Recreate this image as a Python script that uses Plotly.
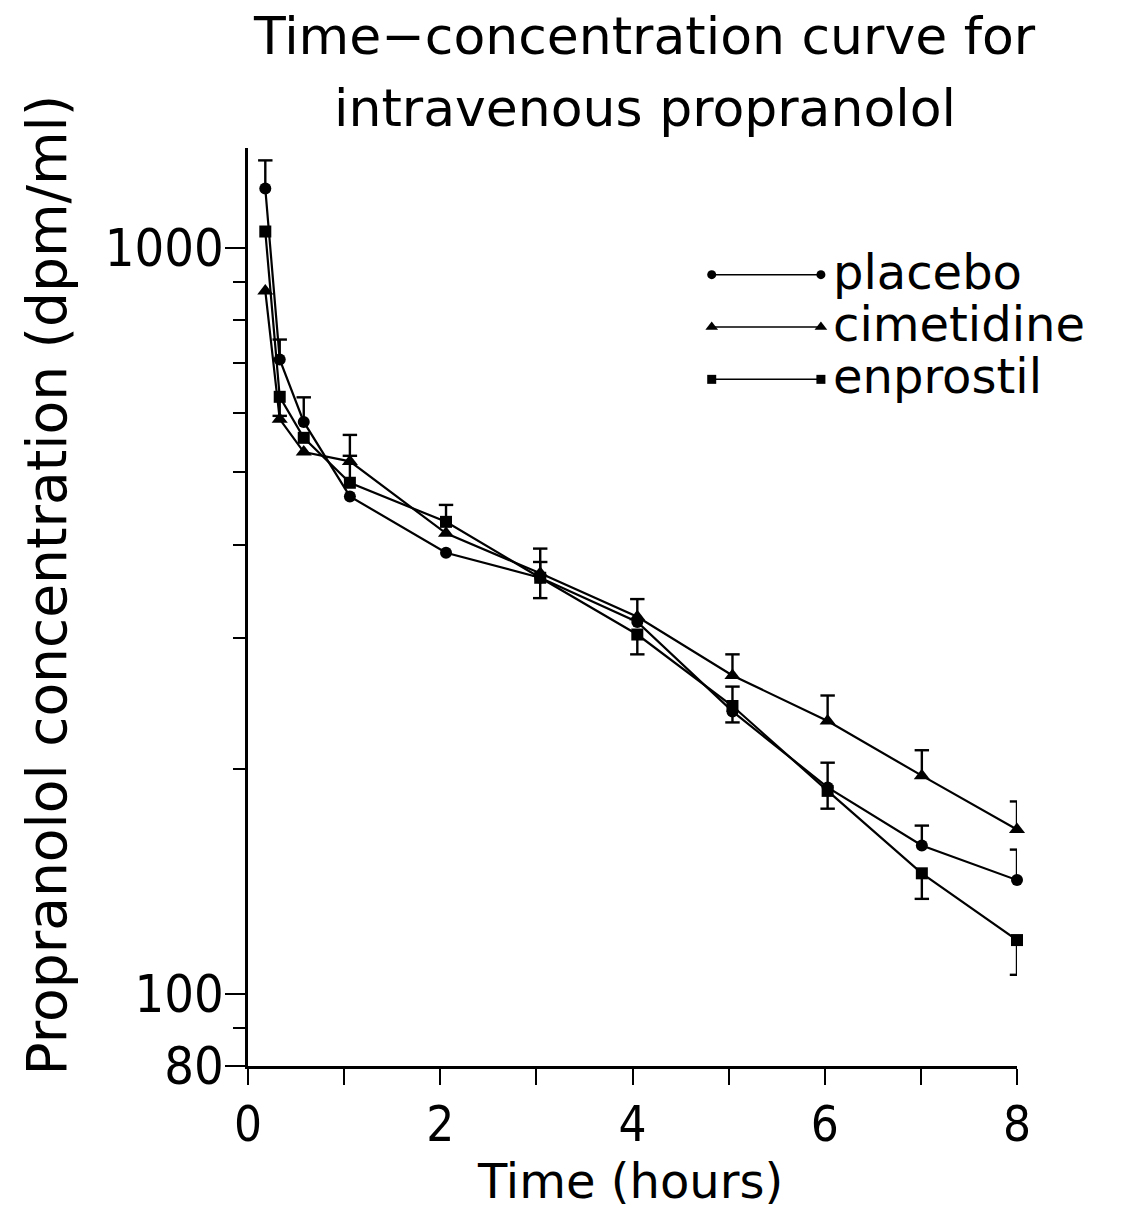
import math
import plotly.graph_objects as go

# ---------------- data ----------------
time_h = [0.18, 0.33, 0.58, 1.06, 2.06, 3.04, 4.05, 5.04, 6.03, 7.01, 8.0]

placebo = [1200, 708, 584, 464, 390, 361, 315, 239, 189, 158, 142]
cimetidine = [875, 589, 532, 517, 414, 366, 320, 267, 232, 196, 166]
enprostil = [1051, 631, 556, 484, 429, 361, 303, 243, 187, 145, 118]

# error-bar ends (None = no bar drawn)
placebo_hi = [1309, 753, 630, None, None, 379, None, None, 204, 168, 156]
placebo_lo = [None, None, None, None, None, None, None, 231, None, None, None]
cimetidine_hi = [None, None, None, 561, None, 395, 338, 285, 251, 212, 181]
cimetidine_lo = [None] * 11
enprostil_hi = [None, None, None, 526, 452, None, None, 258, None, None, None]
enprostil_lo = [None, 595, None, None, None, 339, 285, None, 177, 134, 106]

series_names = ["placebo", "cimetidine", "enprostil"]
y_major_ticks = [80, 100, 1000]
y_major_labels = ["80", "100", "1000"]
y_minor_ticks = [90, 200, 300, 400, 500, 600, 700, 800, 900]
x_ticks = [0, 1, 2, 3, 4, 5, 6, 7, 8]
x_labels = ["0", "", "2", "", "4", "", "6", "", "8"]
title_lines = ["Time\u2212concentration curve for", "intravenous propranolol"]

FONT = "DejaVu Sans"
NARROW = "DejaVu Sans Condensed, DejaVu Sans"
BLACK = "black"

fig = go.Figure()

cap = 0.075  # half-width of error-bar caps in hours


def err_segments(xs, ys, ends):
    ex, ey = [], []
    for x, y, e in zip(xs, ys, ends):
        if e is None:
            continue
        ex += [x, x, None, x - cap, x + cap, None]
        ey += [y, e, None, e, e, None]
    return ex, ey


specs = [
    ("placebo", placebo, placebo_hi, placebo_lo, "circle", 12, 9),
    ("cimetidine", cimetidine, cimetidine_hi, cimetidine_lo, "triangle-up", 14, 11),
    ("enprostil", enprostil, enprostil_hi, enprostil_lo, "square", 12, 9),
]

# error bars first (underneath)
for name, ys, hi, lo, sym, sz, lsz in specs:
    ex1, ey1 = err_segments(time_h, ys, hi)
    ex2, ey2 = err_segments(time_h, ys, lo)
    fig.add_trace(go.Scatter(
        x=ex1 + ex2, y=ey1 + ey2, mode="lines",
        line=dict(color=BLACK, width=2.4), showlegend=False,
        hoverinfo="skip", cliponaxis=False))

for name, ys, hi, lo, sym, sz, lsz in specs:
    fig.add_trace(go.Scatter(
        x=time_h, y=ys, mode="lines+markers", name=name,
        line=dict(color=BLACK, width=2.2),
        marker=dict(symbol=sym, size=sz, color=BLACK),
        showlegend=False, cliponaxis=False))

# custom legend (marker - line - marker, then label) on an overlay axis
leg_rows = [0.862, 0.805, 0.748]
for (name, ys, hi, lo, sym, sz, lsz), ry in zip(specs, leg_rows):
    fig.add_trace(go.Scatter(
        x=[0.603, 0.745], y=[ry, ry], xaxis="x2", yaxis="y2",
        mode="lines+markers", line=dict(color=BLACK, width=1.5),
        marker=dict(symbol=sym, size=lsz, color=BLACK),
        showlegend=False, hoverinfo="skip", cliponaxis=False))
    fig.add_annotation(
        text=name, xref="paper", yref="paper", x=0.758, y=ry,
        xanchor="left", yanchor="middle", showarrow=False, yshift=3,
        font=dict(family=FONT, size=48, color=BLACK))

# title (two lines)
for txt, ty in zip(title_lines, [1.122, 1.044]):
    fig.add_annotation(
        text=txt, xref="paper", yref="paper", x=0.516, y=ty,
        xanchor="center", yanchor="middle", showarrow=False,
        font=dict(family=FONT, size=52, color=BLACK))

fig.add_annotation(
    text="Propranolol concentration (dpm/ml)", textangle=-90,
    xref="paper", yref="paper", x=-0.262, y=0.524,
    xanchor="center", yanchor="middle", showarrow=False,
    font=dict(family=FONT, size=55, color=BLACK))

fig.add_annotation(
    text="Time (hours)", xref="paper", yref="paper", x=0.497, y=0,
    yshift=-145, xanchor="center", yanchor="bottom", showarrow=False,
    font=dict(family=FONT, size=48, color=BLACK))

fig.update_layout(
    width=1122, height=1212,
    margin=dict(l=248, r=105, t=148, b=146),
    paper_bgcolor="white", plot_bgcolor="white",
    font=dict(family=FONT, size=52, color=BLACK),
    xaxis=dict(
        range=[0, 8], tickmode="array", tickvals=x_ticks, ticktext=x_labels,
        ticks="outside", ticklen=16, tickwidth=2, tickcolor=BLACK,
        showline=True, linewidth=2.5, linecolor=BLACK,
        showgrid=False, zeroline=False, ticklabelstandoff=-3,
        tickfont=dict(family=NARROW, size=49, color=BLACK)),
    yaxis=dict(
        type="log", range=[math.log10(80), math.log10(1360)],
        tickmode="array", tickvals=y_major_ticks, ticktext=y_major_labels,
        ticks="outside", ticklen=20, tickwidth=2, tickcolor=BLACK,
        minor=dict(tickmode="array", tickvals=y_minor_ticks,
                   ticks="outside", ticklen=12, tickwidth=2,
                   tickcolor=BLACK, showgrid=False),
        showline=True, linewidth=2.5, linecolor=BLACK,
        showgrid=False, zeroline=False, ticklabelstandoff=-9,
        tickfont=dict(family=NARROW, size=52, color=BLACK)),
    xaxis2=dict(overlaying="x", range=[0, 1], visible=False),
    yaxis2=dict(overlaying="y", range=[0, 1], visible=False),
)

fig.write_html("out.html")
